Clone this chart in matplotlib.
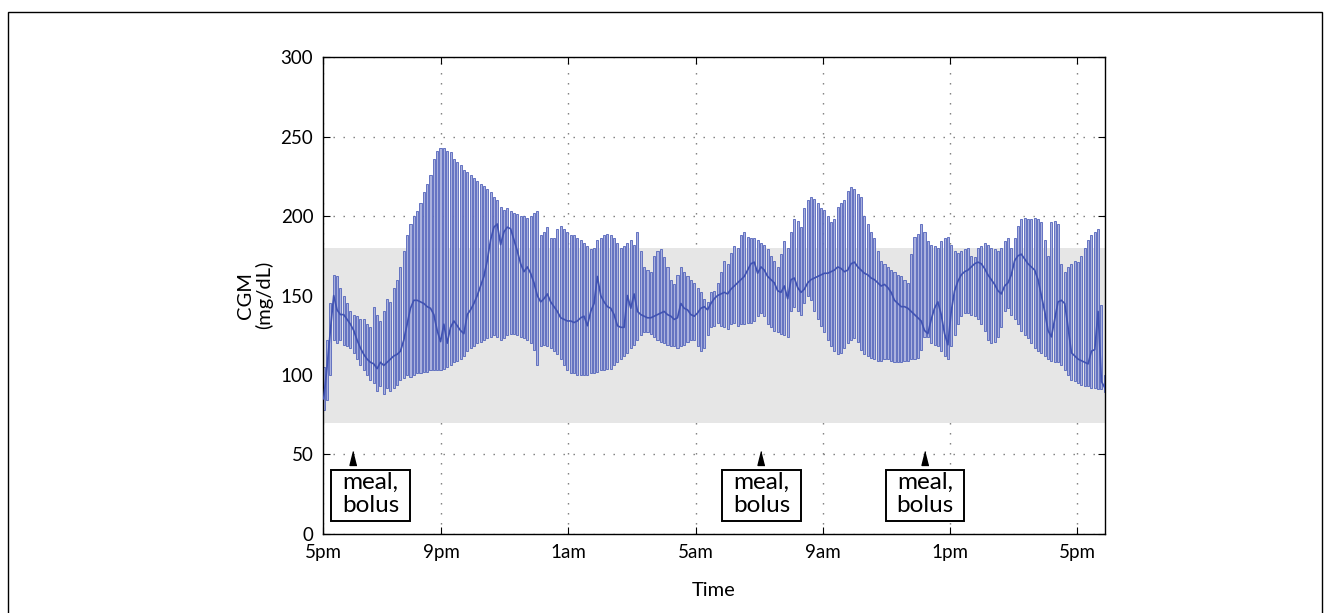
import numpy as np
import matplotlib.pyplot as plt
from matplotlib.patches import Rectangle

plt.rcParams['font.family'] = ['Lato', 'DejaVu Sans']

# CGM readings (mg/dL): range top, median, range bottom for each reading
cgm_top = [
    105, 122, 145, 163, 162, 155, 150, 145, 140, 138, 137, 135, 135, 132, 130,
    143, 138, 134, 140, 148, 146, 155, 160, 168, 178, 188, 195, 200, 203, 208,
    215, 220, 226, 236, 241, 243, 243, 241, 240, 236, 234, 232, 229, 228, 226,
    224, 222, 220, 219, 217, 215, 212, 210, 206, 204, 205, 203, 202, 201, 200,
    200, 199, 200, 202, 203, 188, 190, 193, 186, 186, 192, 194, 192, 190, 188,
    188, 186, 185, 183, 181, 179, 180, 185, 186, 188, 189, 188, 186, 183, 180,
    181, 183, 185, 182, 190, 178, 168, 166, 165, 175, 178, 179, 174, 168, 160,
    157, 163, 168, 165, 162, 160, 158, 155, 152, 148, 146, 152, 153, 158, 165,
    172, 170, 177, 181, 180, 188, 190, 187, 186, 186, 185, 183, 182, 179, 175,
    172, 168, 176, 184, 180, 190, 198, 197, 193, 205, 210, 212, 211, 208, 205,
    204, 200, 196, 198, 206, 208, 210, 216, 218, 217, 214, 212, 200, 195, 190,
    186, 178, 172, 170, 168, 166, 165, 163, 162, 160, 158, 176, 187, 189, 195,
    190, 184, 182, 181, 180, 184, 186, 187, 182, 178, 177, 178, 179, 180, 175,
    174, 180, 181, 183, 182, 180, 179, 178, 180, 184, 186, 180, 186, 194, 198,
    199, 198, 198, 199, 198, 196, 185, 175, 196, 197, 195, 170, 165, 168, 170,
    172, 171, 175, 180, 185, 188, 190, 192, 144, 100,
]
cgm_median = [
    85, 105, 128, 150, 141, 138, 138, 135, 132, 128, 122, 117, 113, 110, 108,
    107, 104, 108, 106, 108, 110, 112, 113, 115, 122, 132, 142, 147, 147, 146,
    145, 143, 142, 138, 128, 121, 132, 120, 130, 134, 131, 128, 126, 138, 141,
    145, 150, 156, 162, 172, 185, 193, 195, 182, 190, 193, 192, 185, 178, 170,
    165, 168, 164, 158, 150, 146, 148, 151, 146, 143, 140, 136, 135, 134, 134,
    133, 134, 136, 137, 131, 140, 145, 162, 150, 146, 143, 142, 138, 131, 130,
    130, 150, 142, 151, 140, 138, 137, 136, 136, 137, 138, 139, 140, 138, 137,
    135, 136, 145, 142, 141, 138, 137, 139, 142, 143, 141, 145, 148, 150, 151,
    152, 151, 154, 156, 158, 160, 162, 166, 170, 171, 164, 168, 166, 162, 160,
    158, 153, 152, 156, 148, 160, 161, 155, 152, 154, 158, 160, 161, 162, 163,
    164, 164, 165, 166, 168, 167, 165, 166, 170, 171, 168, 166, 164, 163, 161,
    160, 158, 156, 157, 155, 152, 147, 145, 143, 143, 142, 140, 138, 136, 134,
    128, 126, 135, 142, 146, 138, 126, 119, 140, 153, 159, 163, 165, 166, 168,
    170, 171, 170, 167, 163, 160, 157, 153, 151, 156, 158, 163, 172, 175, 176,
    173, 170, 168, 166, 160, 150, 140, 128, 124, 135, 146, 147, 145, 130, 114,
    112, 110, 109, 108, 107, 115, 116, 140, 96, 92,
]
cgm_bottom = [
    78, 84, 100, 122, 120, 122, 119, 118, 117, 114, 110, 106, 103, 100, 97,
    95, 90, 93, 88, 92, 90, 92, 94, 97, 98, 100, 99, 100, 101, 101,
    102, 102, 103, 103, 103, 103, 104, 105, 106, 108, 109, 110, 112, 115, 117,
    118, 120, 121, 122, 123, 124, 125, 124, 122, 123, 125, 126, 126, 125, 124,
    123, 122, 120, 116, 106, 118, 119, 118, 117, 115, 113, 110, 106, 103, 101,
    101, 100, 100, 100, 100, 101, 101, 102, 103, 103, 104, 104, 106, 108, 110,
    112, 114, 117, 119, 122, 125, 127, 127, 126, 124, 122, 121, 120, 119, 118,
    118, 117, 118, 119, 121, 122, 122, 118, 115, 117, 125, 130, 131, 133, 131,
    130, 129, 132, 133, 131, 132, 132, 133, 133, 134, 137, 139, 137, 132, 130,
    128, 127, 126, 125, 124, 140, 143, 140, 138, 145, 150, 147, 140, 135, 131,
    127, 122, 118, 115, 113, 114, 117, 120, 122, 123, 121, 116, 113, 112, 111,
    110, 109, 109, 110, 110, 109, 108, 108, 108, 109, 109, 110, 110, 111, 116,
    124, 124, 120, 119, 118, 115, 112, 110, 118, 125, 132, 137, 139, 139, 138,
    137, 135, 132, 128, 122, 120, 121, 124, 130, 140, 142, 138, 135, 132, 128,
    125, 123, 120, 117, 115, 114, 112, 110, 109, 108, 108, 106, 103, 100, 97,
    96, 95, 94, 93, 93, 92, 92, 91, 91, 89,
]
cgm_top = np.array(cgm_top)
cgm_median = np.array(cgm_median)
cgm_bottom = np.array(cgm_bottom)
assert len(cgm_top) == len(cgm_median) == len(cgm_bottom)

# reading times in hours after 5pm
hours = 0.3 + 0.105 * np.arange(len(cgm_top))

tick_hours = [0.28, 4, 8, 12, 16, 20, 24]
tick_labels = ['5pm', '9pm', '1am', '5am', '9am', '1pm', '5pm']
meal_hours = [1.23, 14.06, 19.23]
box_hours = [1.77, 14.07, 19.22]
target_low, target_high = 70, 180

fig = plt.figure(figsize=(13.3, 6.13), dpi=100)
ax = fig.add_axes([0.2429, 0.1289, 0.588, 0.778])

ax.set_axisbelow(True)
ax.grid(True, linestyle=(0, (1, 6.2)), color='#777777', linewidth=1.0)
ax.axhspan(target_low, target_high, color='#e6e6e6', lw=0, zorder=0.8)

ax.bar(hours, cgm_top - cgm_bottom, bottom=cgm_bottom, width=0.065,
       color='#aab1de', edgecolor='#5263bb', linewidth=0.6, zorder=2)
ax.plot(hours, cgm_median, color='#4052b2', linewidth=1.2, zorder=3)

# meal / bolus markers
tri = [(0, 1), (-0.5, -1), (0.5, -1)]
ax.plot(meal_hours, [47.5] * len(meal_hours), ls='none', marker=tri,
        ms=10, color='black', zorder=4)
box_w, box_lo, box_hi = 2.46, 8, 40.5
for bx in box_hours:
    ax.add_patch(Rectangle((bx - box_w / 2, box_lo), box_w, box_hi - box_lo,
                           fc='white', ec='black', lw=1.4, zorder=5))
    ax.text(bx, (box_lo + box_hi) / 2 + 1.0, 'meal,\nbolus', ha='center',
            va='center', fontsize=17.5, linespacing=1.08, zorder=6)

ax.set_xlim(0.28, 24.88)
ax.set_ylim(0, 300)
ax.set_xticks(tick_hours)
ax.set_xticklabels(tick_labels)
ax.set_yticks(range(0, 301, 50))
ax.tick_params(direction='in', top=True, right=True, length=5, width=0.8,
               labelsize=13.5, pad=7)
for s in ax.spines.values():
    s.set_linewidth(1.0)

fig.text(255 / 1330, 1 - 295 / 613, 'CGM\n(mg/dL)', rotation=90,
         ha='center', va='center', fontsize=14.5, linespacing=1.05)
fig.text(714 / 1330, 1 - 590 / 613, 'Time', ha='center', va='center',
         fontsize=14.5)

fig.patches.append(Rectangle((8 / 1330, -0.05), 1314 / 1330, 1.05 - 12 / 613,
                             transform=fig.transFigure, fill=False,
                             ec='black', lw=1))

fig.savefig('out.png', dpi=100)
plt.close()
